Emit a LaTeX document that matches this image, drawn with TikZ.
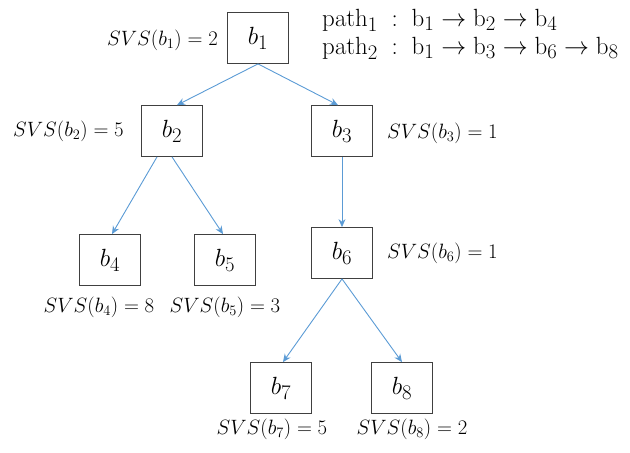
\documentclass[tikz,border=0pt]{standalone}
\usetikzlibrary{arrows.meta}
\definecolor{arrowblue}{RGB}{91,155,213}
\definecolor{boxgray}{RGB}{64,64,64}
\begin{document}
\begin{tikzpicture}[x=1pt,y=-1pt,
  blk/.style={draw=boxgray, line width=0.8pt, fill=white, minimum width=61pt, minimum height=51pt, inner sep=0pt, font=\fontsize{28}{32}\selectfont},
  lbl/.style={font=\fontsize{20}{24}\selectfont, inner sep=0pt},
  ptxt/.style={font=\fontsize{29.5}{32}\selectfont, inner sep=0pt, anchor=base west},
  conn/.style={draw=arrowblue, line width=0.9pt, -{Stealth[length=8pt,width=7pt]}}]
\useasboundingbox (0,0) rectangle (630,453);
\node[blk] (b1) at (258,38) {$b_1$};
\node[blk] (b2) at (172,131) {$b_2$};
\node[blk] (b3) at (342,131) {$b_3$};
\node[blk] (b4) at (110,260) {$b_4$};
\node[blk] (b5) at (225,260) {$b_5$};
\node[blk] (b6) at (342,253) {$b_6$};
\node[blk] (b7) at (281,388) {$b_7$};
\node[blk] (b8) at (402,388) {$b_8$};
\node[lbl, anchor=east] (l1) at (218,40) {$SVS(b_1)=2$};
\node[lbl, anchor=west] (l2) at (13,131) {$SVS(b_2)=5$};
\node[lbl, anchor=west] (l3) at (387,133) {$SVS(b_3)=1$};
\node[lbl, anchor=west] (l6) at (387,253) {$SVS(b_6)=1$};
\node[lbl] (l4) at (99,307) {$SVS(b_4)=8$};
\node[lbl] (l5) at (225,307) {$SVS(b_5)=3$};
\node[lbl] (l7) at (272,429) {$SVS(b_7)=5$};
\node[lbl] (l8) at (412,429) {$SVS(b_8)=2$};
\node[ptxt] (p1) at (322,26) {$\mathrm{path}_1 \;:\; \mathrm{b}_1 \rightarrow \mathrm{b}_2 \rightarrow \mathrm{b}_4$};
\node[ptxt] (p2) at (322,54) {$\mathrm{path}_2 \;:\; \mathrm{b}_1 \rightarrow \mathrm{b}_3 \rightarrow \mathrm{b}_6 \rightarrow \mathrm{b}_8$};
\draw[conn] (b1.south) -- ([xshift=5pt]b2.north);
\draw[conn] (b1.south) -- ([xshift=-4pt]b3.north);
\draw[conn] ([xshift=-15pt]b2.south) -- ([xshift=2pt]b4.north);
\draw[conn] (b2.south) -- ([xshift=-2pt]b5.north);
\draw[conn] (b3.south) -- (b6.north);
\draw[conn] (b6.south) -- ([xshift=2pt]b7.north);
\draw[conn] (b6.south) -- (b8.north);
\end{tikzpicture}
\end{document}
